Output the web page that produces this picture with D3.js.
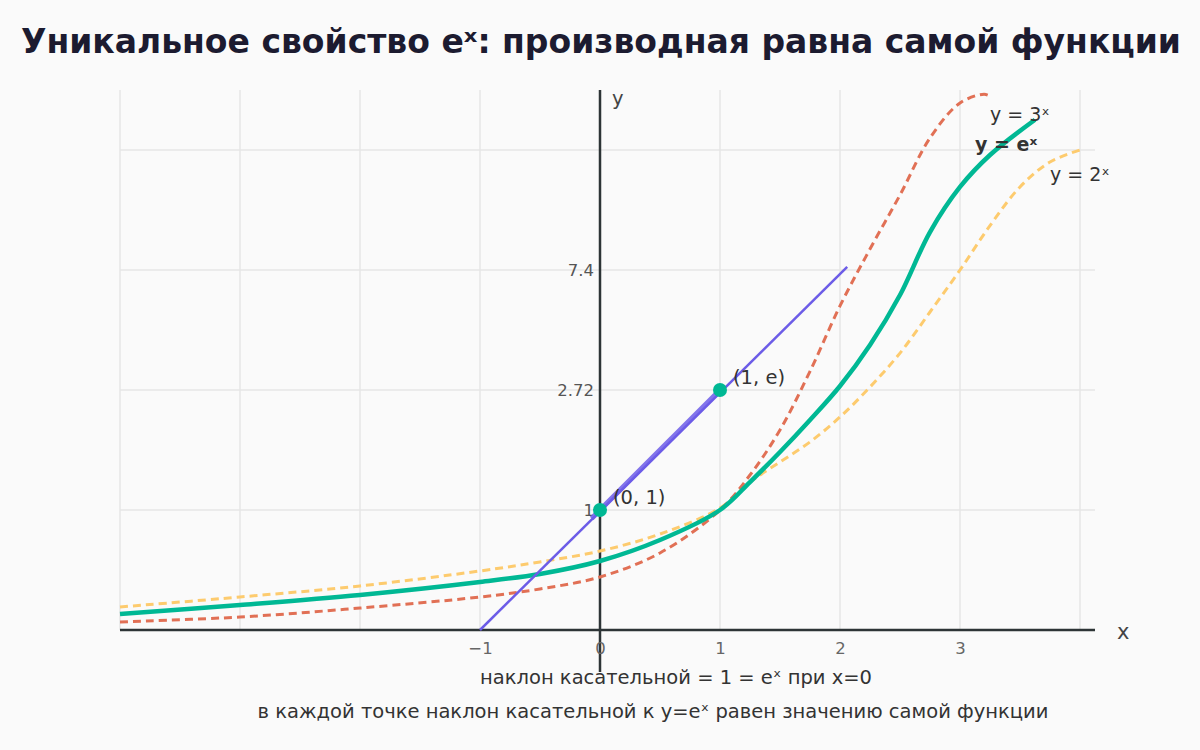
<!DOCTYPE html>
<html>
<head>
<meta charset="utf-8">
<script src="https://cdn.jsdelivr.net/npm/d3@7"></script>
<style>
  html, body { margin: 0; padding: 0; background: #fafafa; }
  svg { display: block; font-family: "DejaVu Sans", sans-serif; }
</style>
</head>
<body>
<div id="chart"></div>
<script>
// data
var xGrid = [-4, -3, -2, -1, 0, 1, 2, 3, 4];
var xTicks = [-1, 0, 1, 2, 3];
var yGrid = [0, 1, 2.72, 7.4, 20.1];
var yTicks = [1, 2.72, 7.4];

var expX = [-4, -3, -2, -1, -0.5, 0, 0.5, 1, 1.25, 1.5, 1.75, 2, 2.25, 2.5, 2.75, 3, 3.25, 3.625];
var expY = [0.133, 0.208, 0.292, 0.4, 0.467, 0.575, 0.75, 1.0, 1.401, 1.831, 2.29, 2.876, 4.475, 6.425, 11.42, 16.19, 19.57, 23.3];

var pow3X = [-4, -3, -2, -1, -0.5, 0, 0.5, 1, 1.25, 1.5, 1.75, 2, 2.25, 2.5, 2.75, 3, 3.2, 3.25];
var pow3Y = [0.067, 0.108, 0.183, 0.275, 0.342, 0.442, 0.642, 1.0, 1.502, 2.147, 3.45, 6.0, 9.62, 15.34, 21.37, 25.08, 26.0, 25.8];

var pow2X = [-4, -3, -2, -1, -0.5, 0, 0.5, 1, 1.25, 1.5, 1.75, 2, 2.25, 2.5, 2.75, 3, 3.25, 3.5, 3.75, 4];
var pow2Y = [0.192, 0.275, 0.367, 0.492, 0.567, 0.658, 0.8, 1.029, 1.40, 1.688, 1.975, 2.333, 2.837, 4.16, 5.762, 7.4, 12.1, 16.19, 18.83, 20.1];

var tangentX = [-1, 2.06];
var tangentY = [0, 7.72];
var secantX = [-0.07, 1];
var secantY = [0.93, 2.72];

var markedX = [0, 1];
var markedY = [1, 2.72];
var markedLabels = ["(0, 1)", "(1, e)"];

var width = 1200, height = 750;

var svg = d3.select('#chart').append('svg')
    .attr('width', width)
    .attr('height', height);

svg.append('rect').attr('width', width).attr('height', height).attr('fill', '#fafafa');

var x = d3.scaleLinear().domain([-4, 4]).range([120, 1080]);
// piecewise scale: equal spacing between 0, 1, e, e², e³
var y = d3.scaleLinear().domain(yGrid).range([630, 510, 390, 270, 150]);

var plotTop = 90, plotRight = 1095, axisBottomEnd = 672;

// title
svg.append('text')
    .attr('x', 601).attr('y', 53)
    .attr('text-anchor', 'middle')
    .attr('font-size', 33).attr('font-weight', 'bold')
    .attr('fill', '#1c1b30')
    .text('Уникальное свойство eˣ: производная равна самой функции');

// grid
svg.append('g').selectAll('line').data(xGrid).enter().append('line')
    .attr('x1', d => x(d)).attr('x2', d => x(d))
    .attr('y1', plotTop).attr('y2', y(0))
    .attr('stroke', '#e6e6e6').attr('stroke-width', 1.5);

svg.append('g').selectAll('line').data(yGrid).enter().append('line')
    .attr('x1', x(-4)).attr('x2', plotRight)
    .attr('y1', d => y(d)).attr('y2', d => y(d))
    .attr('stroke', '#e6e6e6').attr('stroke-width', 1.5);

// axes lines
svg.append('line')
    .attr('x1', x(-4)).attr('x2', plotRight)
    .attr('y1', y(0)).attr('y2', y(0))
    .attr('stroke', '#2d3436').attr('stroke-width', 2.5);
svg.append('line')
    .attr('x1', x(0)).attr('x2', x(0))
    .attr('y1', plotTop).attr('y2', axisBottomEnd)
    .attr('stroke', '#2d3436').attr('stroke-width', 2.5);

// tick labels
var xAxis = svg.append('g')
    .attr('transform', 'translate(0,' + y(0) + ')')
    .call(d3.axisBottom(x).tickValues(xTicks).tickSize(0).tickPadding(12));
xAxis.select('.domain').remove();
xAxis.selectAll('text').attr('font-size', 16.5).attr('fill', '#666')
    .attr('font-family', '"DejaVu Sans", sans-serif');

var yAxis = svg.append('g')
    .attr('transform', 'translate(' + (x(0) - 4) + ',0)')
    .call(d3.axisLeft(y).tickValues(yTicks).tickSize(0).tickPadding(2).tickFormat(d => String(d)));
yAxis.select('.domain').remove();
yAxis.selectAll('text').attr('font-size', 16.5).attr('fill', '#555')
    .attr('font-family', '"DejaVu Sans", sans-serif');

// axis names
svg.append('text').attr('x', 612).attr('y', 105).attr('font-size', 19.5).attr('fill', '#444').text('y');
svg.append('text').attr('x', 1117).attr('y', 639).attr('font-size', 21).attr('fill', '#444').text('x');

function series(xs, ys) { return xs.map((d, i) => [d, ys[i]]); }

var line = d3.line()
    .x(d => x(d[0])).y(d => y(d[1]))
    .curve(d3.curveCatmullRom.alpha(0.5));

var straight = d3.line().x(d => x(d[0])).y(d => y(d[1]));

// curves
svg.append('path').datum(series(pow2X, pow2Y))
    .attr('d', line).attr('fill', 'none')
    .attr('stroke', '#fdcb6e').attr('stroke-width', 3)
    .attr('stroke-dasharray', '8,5');

svg.append('path').datum(series(pow3X, pow3Y))
    .attr('d', line).attr('fill', 'none')
    .attr('stroke', '#e17055').attr('stroke-width', 3)
    .attr('stroke-dasharray', '8,5');

svg.append('path').datum(series(expX, expY))
    .attr('d', line).attr('fill', 'none')
    .attr('stroke', '#00b894').attr('stroke-width', 4.5);

// tangent line
svg.append('path').datum(series(tangentX, tangentY))
    .attr('d', straight).attr('fill', 'none')
    .attr('stroke', '#6c5ce7').attr('stroke-width', 2.5);

svg.append('path').datum(series(secantX, secantY))
    .attr('d', straight).attr('fill', 'none')
    .attr('stroke', '#6c5ce7').attr('stroke-width', 5).attr('opacity', 0.85);

// marked points
var pts = series(markedX, markedY);
svg.append('g').selectAll('circle').data(pts).enter().append('circle')
    .attr('cx', d => x(d[0])).attr('cy', d => y(d[1]))
    .attr('r', 7).attr('fill', '#00b894');

svg.append('g').selectAll('text').data(pts).enter().append('text')
    .attr('x', d => x(d[0]) + 13).attr('y', d => y(d[1]) - 6)
    .attr('font-size', 19.5).attr('fill', '#333')
    .text((d, i) => markedLabels[i]);

// curve labels
svg.append('text').attr('x', 990).attr('y', 121).attr('font-size', 19).attr('fill', '#333').text('y = 3ˣ');
svg.append('text').attr('x', 975).attr('y', 151).attr('font-size', 19).attr('font-weight', 'bold').attr('fill', '#333').text('y = eˣ');
svg.append('text').attr('x', 1050).attr('y', 181).attr('font-size', 19).attr('fill', '#333').text('y = 2ˣ');

// notes
svg.append('text').attr('x', 676).attr('y', 684)
    .attr('text-anchor', 'middle').attr('font-size', 19.5).attr('fill', '#333')
    .text('наклон касательной = 1 = eˣ при x=0');
svg.append('text').attr('x', 653).attr('y', 718)
    .attr('text-anchor', 'middle').attr('font-size', 19.5).attr('fill', '#333')
    .text('в каждой точке наклон касательной к y=eˣ равен значению самой функции');
</script>
</body>
</html>
